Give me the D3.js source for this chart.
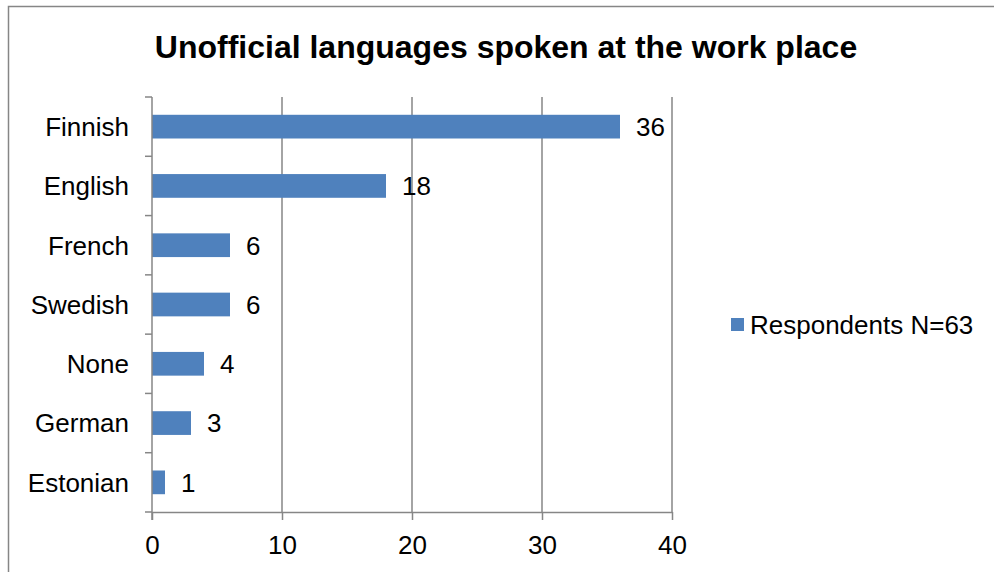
<!DOCTYPE html>
<html>
<head>
<meta charset="utf-8">
<script src="https://cdn.jsdelivr.net/npm/d3@7"></script>
<style>
  html, body { margin: 0; padding: 0; background: #fff; }
  svg { display: block; font-family: Arial, "Liberation Sans", sans-serif; }
</style>
</head>
<body>
<svg id="chart" width="994" height="572"></svg>
<script>
// Languages and respondent counts
const languages = ["Finnish", "English", "French", "Swedish", "None", "German", "Estonian"];
const respondents = [36, 18, 6, 6, 4, 3, 1];
const xTicks = [0, 10, 20, 30, 40];
const seriesName = "Respondents N=63";
const chartTitle = "Unofficial languages spoken at the work place";

const svg = d3.select("#chart");
const W = 994, H = 572;
const margin = { left: 152, right: 322, top: 97, bottom: 60 };
const barColor = "#4f81bd";
const gridColor = "#868686";
const fontSize = 26;

// Outer chart frame
svg.append("rect")
  .attr("x", 8.5).attr("y", 6.5)
  .attr("width", W + 10).attr("height", H + 10)
  .attr("fill", "none").attr("stroke", gridColor).attr("stroke-width", 1.5);

svg.append("text")
  .attr("x", 506).attr("y", 58)
  .attr("text-anchor", "middle")
  .attr("font-size", 32).attr("font-weight", "bold")
  .text(chartTitle);

const x = d3.scaleLinear().domain([0, 40]).range([margin.left, W - margin.right]);
const y = d3.scaleBand().domain(languages).range([margin.top, H - margin.bottom]).paddingInner(0.6).paddingOuter(0.3);

// Vertical gridlines
svg.append("g").selectAll("line")
  .data(xTicks.filter(d => d > 0))
  .join("line")
  .attr("x1", d => x(d)).attr("x2", d => x(d))
  .attr("y1", margin.top).attr("y2", H - margin.bottom)
  .attr("stroke", gridColor).attr("stroke-width", 1.5);

// Bars
svg.append("g").selectAll("rect")
  .data(languages)
  .join("rect")
  .attr("x", x(0))
  .attr("y", d => y(d))
  .attr("width", (d, i) => x(respondents[i]) - x(0))
  .attr("height", y.bandwidth())
  .attr("fill", barColor);

// Value labels
svg.append("g").selectAll("text")
  .data(languages)
  .join("text")
  .attr("x", (d, i) => x(respondents[i]) + 16)
  .attr("y", d => y(d) + y.bandwidth() / 2)
  .attr("dy", "0.36em")
  .attr("font-size", fontSize)
  .text((d, i) => respondents[i]);

// X axis
const xAxis = svg.append("g")
  .attr("transform", `translate(0,${H - margin.bottom})`)
  .call(d3.axisBottom(x).tickValues(xTicks).tickSize(8).tickPadding(16).tickSizeOuter(0));
xAxis.select(".domain").attr("stroke", gridColor).attr("stroke-width", 1.5);
xAxis.selectAll(".tick line").attr("stroke", gridColor).attr("stroke-width", 1.5);
xAxis.selectAll(".tick text").attr("font-size", fontSize).attr("fill", "#000")
  .attr("font-family", "Arial, 'Liberation Sans', sans-serif");

// Y axis: category boundary ticks
const boundaries = d3.range(languages.length + 1).map(i => margin.top + i * y.step());
const yAxisG = svg.append("g");
yAxisG.append("line")
  .attr("x1", x(0)).attr("x2", x(0))
  .attr("y1", margin.top).attr("y2", H - margin.bottom + 8)
  .attr("stroke", gridColor).attr("stroke-width", 1.5);
yAxisG.selectAll("line.tk")
  .data(boundaries)
  .join("line").attr("class", "tk")
  .attr("x1", x(0) - 7).attr("x2", x(0))
  .attr("y1", d => d).attr("y2", d => d)
  .attr("stroke", gridColor).attr("stroke-width", 1.5);
yAxisG.selectAll("text")
  .data(languages)
  .join("text")
  .attr("x", x(0) - 23)
  .attr("y", d => y(d) + y.bandwidth() / 2)
  .attr("dy", "0.36em")
  .attr("text-anchor", "end")
  .attr("font-size", fontSize)
  .text(d => d);

// Legend
const legend = svg.append("g").attr("transform", "translate(731,318)");
legend.append("rect").attr("width", 13).attr("height", 13).attr("fill", barColor);
legend.append("text").attr("x", 19).attr("y", 6.5).attr("dy", "0.36em")
  .attr("font-size", fontSize).text(seriesName);
</script>
</body>
</html>
